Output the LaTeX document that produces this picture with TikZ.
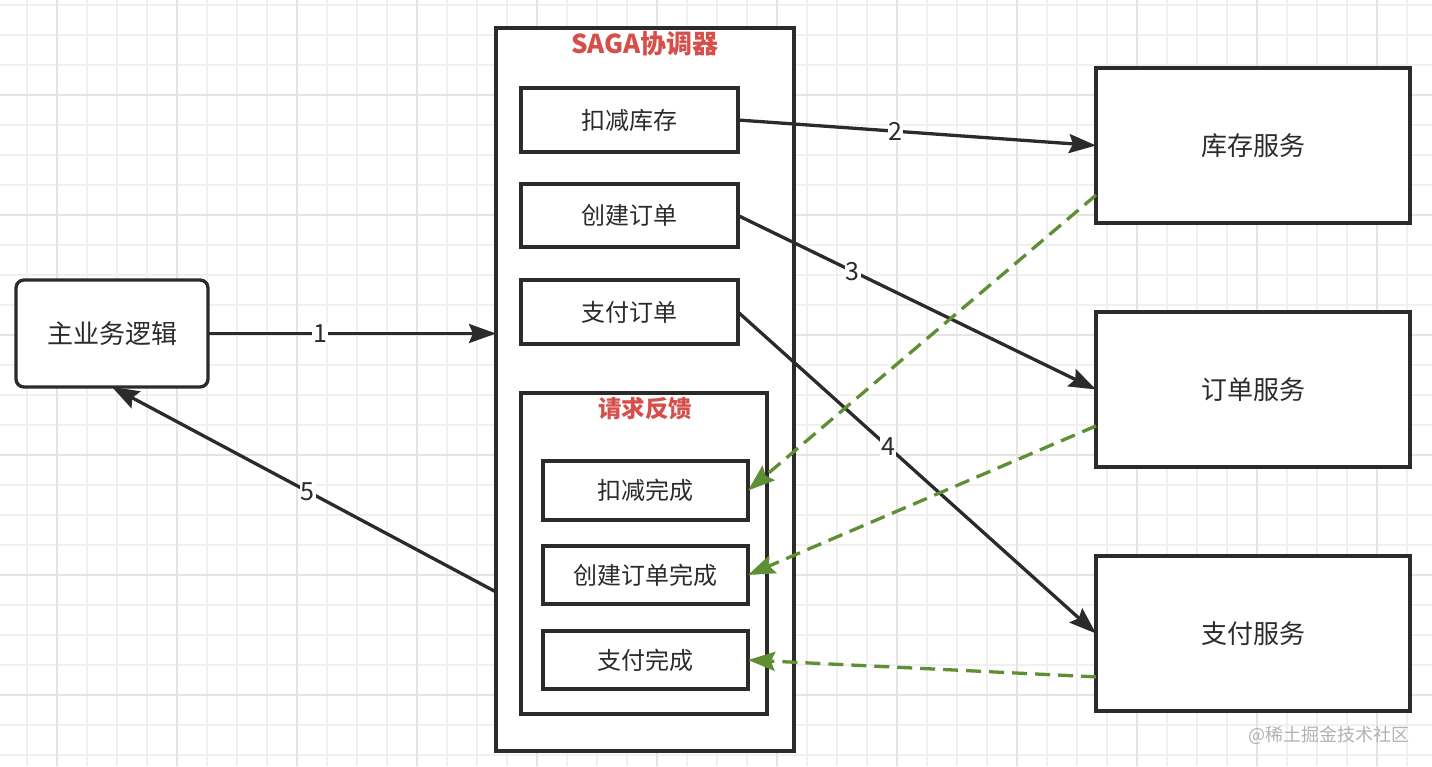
\documentclass[tikz,border=0pt]{standalone}
\usepackage{fontspec}
\setmainfont{Noto Sans CJK SC}
\usetikzlibrary{arrows.meta,calc}
\definecolor{ink}{HTML}{2B2B2B}
\definecolor{gridminor}{HTML}{F0F0F0}
\definecolor{gridmajor}{HTML}{E4E4E4}
\definecolor{titlered}{HTML}{D64F4B}
\definecolor{fbgreen}{HTML}{5F8F35}
\tikzset{
  box/.style={draw=ink, line width=3.3pt, fill=white, inner sep=0pt, outer sep=0pt, text=ink, font=\fontsize{24}{28}\selectfont},
  svc/.style={box, minimum width=314pt, minimum height=155pt, font=\fontsize{26}{30}\selectfont},
  inbox/.style={box, minimum width=217pt, minimum height=64pt},
  fbbox/.style={box, minimum width=205pt, minimum height=59pt},
  ttl/.style={text=titlered, font=\fontsize{26}{30}\selectfont\bfseries, inner sep=0pt},
  flow/.style={draw=ink, line width=3.3pt, -{Stealth[length=27pt,width=19pt,inset=4pt]}},
  back/.style={draw=fbgreen, line width=3.3pt, dash pattern=on 15pt off 8pt, -{Stealth[length=27pt,width=19pt,inset=4pt]}},
  num/.style={fill=white, text=ink, inner sep=1pt, font=\fontsize{25}{27}\selectfont},
}
\begin{document}
\begin{tikzpicture}[x=1pt,y=-1pt]
\useasboundingbox (0,0) rectangle (1432,766);
\fill[white] (0,0) rectangle (1432,766);
% grid
\foreach \gx in {27,57,...,1437} \draw[gridminor, line width=1.2pt] (\gx,0) -- (\gx,766);
\foreach \gy in {5,35,...,765} \draw[gridminor, line width=1.2pt] (0,\gy) -- (1432,\gy);
\foreach \gx in {57,177,...,1437} \draw[gridmajor, line width=1.5pt] (\gx,0) -- (\gx,766);
\foreach \gy in {95,215,...,765} \draw[gridmajor, line width=1.5pt] (0,\gy) -- (1432,\gy);

% nodes
\node[box, rounded corners=8pt, minimum width=192pt, minimum height=107pt, font=\fontsize{26}{30}\selectfont] (main) at (112,333.5) {主业务逻辑};
\node[box, minimum width=298pt, minimum height=723pt] (saga) at (645,389.5) {};
\node[ttl] (sagat) at (645,44) {SAGA协调器};
\node[inbox] (kc) at (629.5,120) {扣减库存};
\node[inbox, minimum height=63pt] (cj) at (629.5,215.5) {创建订单};
\node[inbox] (zf) at (629.5,312) {支付订单};
\node[box, minimum width=246pt, minimum height=321pt] (fb) at (644,553.5) {};
\node[ttl, font=\fontsize{23.5}{26}\selectfont\bfseries] (fbt) at (645,409) {请求反馈};
\node[fbbox] (kcw) at (645.5,490.5) {扣减完成};
\node[fbbox, minimum height=58pt] (cjw) at (645.5,575) {创建订单完成};
\node[fbbox, minimum height=58pt] (zfw) at (645.5,660) {支付完成};
\node[svc] (kucun) at (1253,145.5) {库存服务};
\node[svc] (dd) at (1253,389.5) {订单服务};
\node[svc] (pay) at (1253,633.5) {支付服务};

% flows
\draw[flow] (main.east) -- node[num, pos=0.39] {1} (saga.west |- main.east);
\draw[flow] (kc.east) -- node[num, pos=0.44] {2} (kucun.west);
\draw[flow] (cj.east) -- node[num, pos=0.32] {3} (dd.west);
\draw[flow] (zf.east) -- node[num, pos=0.42] {4} (pay.west);
\draw[flow] ($(saga.north west)!0.78!(saga.south west)$) -- node[num, pos=0.49] {5} (main.south);

% feedback
\draw[back] ($(kucun.north west)!0.82!(kucun.south west)$) -- (kcw.east);
\draw[back] ($(dd.north west)!0.735!(dd.south west)$) -- (cjw.east);
\draw[back] ($(pay.north west)!0.78!(pay.south west)$) -- (zfw.east);

% watermark
\node[text=black!30, font=\fontsize{18}{20}\selectfont, anchor=east, inner sep=0pt] (wm) at (1410,735) {@稀土掘金技术社区};
\end{tikzpicture}
\end{document}
